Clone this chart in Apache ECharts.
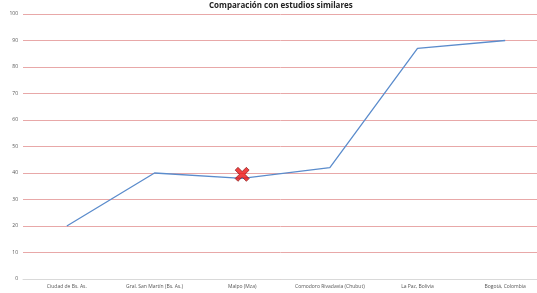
<!DOCTYPE html>
<html>
<head>
<meta charset="utf-8">
<script src="https://cdn.jsdelivr.net/npm/echarts@6/dist/echarts.min.js"></script>
<style>
  html, body { margin: 0; padding: 0; background: #fff; }
  #chart { width: 537px; height: 293px; }
</style>
</head>
<body>
<div id="chart"></div>
<script>
var categories = ['Ciudad de Bs. As.', 'Gral. San Martín (Bs. As.)', 'Malpo (Mza)', 'Comodoro Rivadavia (Chubut)', 'La Paz, Bolivia', 'Bogotá, Colombia'];
var values = [20, 40, 38, 42, 87, 90];
var markerPoint = [['Malpo (Mza)', 39.5]];

var crossPath = 'path://M2,0 L5,3 L8,0 L10,2 L7,5 L10,8 L8,10 L5,7 L2,10 L0,8 L3,5 L0,2 Z';

var chart = echarts.init(document.getElementById('chart'));
chart.setOption({
  animation: false,
  title: {
    text: 'Comparación con estudios similares',
    left: 204,
    top: -3,
    textStyle: { fontFamily: 'Open Sans', fontSize: 8, fontWeight: 'bold', color: '#222' }
  },
  grid: { left: 23, right: -12, top: 14, bottom: 14, outerBoundsMode: 'none', containLabel: false },
  xAxis: {
    type: 'category',
    data: categories,
    boundaryGap: true,
    axisLine: { lineStyle: { color: '#d9d9d9', width: 1 } },
    axisTick: { show: false },
    axisLabel: { fontFamily: 'Open Sans', fontSize: 5, color: '#555', margin: 5, interval: 0 }
  },
  yAxis: {
    type: 'value',
    min: 0,
    max: 100,
    interval: 10,
    axisLine: { show: false },
    axisTick: { show: false },
    axisLabel: { fontFamily: 'Open Sans', fontSize: 5, color: '#555', margin: 5 },
    splitLine: { lineStyle: { color: '#e8a8a8', width: 1 } }
  },
  series: [
    {
      type: 'line',
      data: values,
      symbol: 'none',
      lineStyle: { color: '#5b8ccc', width: 1.3 }
    },
    {
      type: 'scatter',
      data: markerPoint,
      symbol: crossPath,
      symbolSize: 14,
      itemStyle: { color: '#ee1111', borderColor: '#7a1010', borderWidth: 0.8 },
      z: 5
    }
  ]
});
</script>
</body>
</html>
